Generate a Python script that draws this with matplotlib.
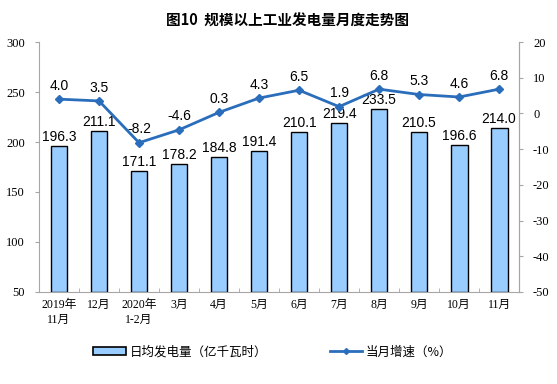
import matplotlib
matplotlib.use("Agg")
import matplotlib.pyplot as plt
from matplotlib.patches import Patch
from matplotlib.lines import Line2D

categories = ["2019年\n11月", "12月", "2020年\n1-2月", "3月", "4月", "5月", "6月", "7月", "8月", "9月", "10月", "11月"]
power = [196.3, 211.1, 171.1, 178.2, 184.8, 191.4, 210.1, 219.4, 233.5, 210.5, 196.6, 214.0]
growth = [4.0, 3.5, -8.2, -4.6, 0.3, 4.3, 6.5, 1.9, 6.8, 5.3, 4.6, 6.8]
left_ticks = [50, 100, 150, 200, 250, 300]
right_ticks = [-50, -40, -30, -20, -10, 0, 10, 20]

cjk = ['Noto Sans CJK SC', 'DejaVu Sans']
serif = ['Liberation Serif', 'Noto Sans CJK SC']
sans = ['Liberation Sans', 'Noto Sans CJK SC']

fig = plt.figure(figsize=(5.57, 3.84), dpi=100)
ax = fig.add_axes([0.070, 0.2396, 0.862, 0.651])
x = list(range(len(categories)))
bar_color = "#99CCFF"
line_color = "#2A6EBB"
spine_c = "#A6A6A6"
ax.bar(x, [p - 50 for p in power], bottom=50, width=0.42, color=bar_color, edgecolor="black", linewidth=1.0, zorder=2)
ax.set_ylim(50, 300)
ax.set_xlim(-0.5, len(categories) - 0.5)
ax.set_yticks(left_ticks)
ax.set_yticklabels([str(t) for t in left_ticks], family=serif, fontsize=9)
ax.set_xticks(x)
ax.set_xticklabels(categories, family=serif, fontsize=8.5, linespacing=1.3)
ax.set_xticks([i + 0.5 for i in range(-1, len(categories))], minor=True)
ax.tick_params(axis='x', which='major', length=0, pad=5)
ax.tick_params(axis='x', which='minor', length=3, direction='in', color=spine_c)
ax.tick_params(axis='y', direction='out', length=3, color=spine_c, pad=7)
for p, xi in zip(power, x):
    ax.text(xi, p + 2, f"{p:.1f}", ha='center', va='bottom', fontsize=10, family=sans)
ax.spines['top'].set_visible(False)
for s in ['left', 'right', 'bottom']:
    ax.spines[s].set_color(spine_c)

ax2 = ax.twinx()
ax2.plot(x, growth, color=line_color, linewidth=2, marker='D', markersize=4, zorder=3)
ax2.set_ylim(-50, 20)
ax2.set_yticks(right_ticks)
ax2.set_yticklabels([str(t) for t in right_ticks], family=serif, fontsize=9)
ax2.tick_params(axis='y', direction='out', length=3, color=spine_c, pad=7)
ax2.spines['top'].set_visible(False)
ax2.spines['right'].set_color(spine_c)
ax2.spines['left'].set_visible(False)
ax2.spines['bottom'].set_visible(False)
for g, xi in zip(growth, x):
    ax2.text(xi, g + 1.8, f"{g:.1f}", ha='center', va='bottom', fontsize=10, family=sans)

fig.text(0.517, 0.945, "图10  规模以上工业发电量月度走势图", ha='center', va='center', fontsize=10.5, family=cjk, fontweight='bold')

handles = [Patch(facecolor=bar_color, edgecolor='black', linewidth=1.2),
           Line2D([0], [0], color=line_color, linewidth=2, marker='D', markersize=3)]
labels = ["日均发电量（亿千瓦时）", "当月增速（%）"]
fig.legend(handles, labels, loc='center', bbox_to_anchor=(0.49, 0.083), ncol=2, frameon=False,
           prop={'family': cjk, 'size': 9}, columnspacing=5, handlelength=2.6, handleheight=0.6, handletextpad=0.3)

fig.savefig("out.png", dpi=100)
